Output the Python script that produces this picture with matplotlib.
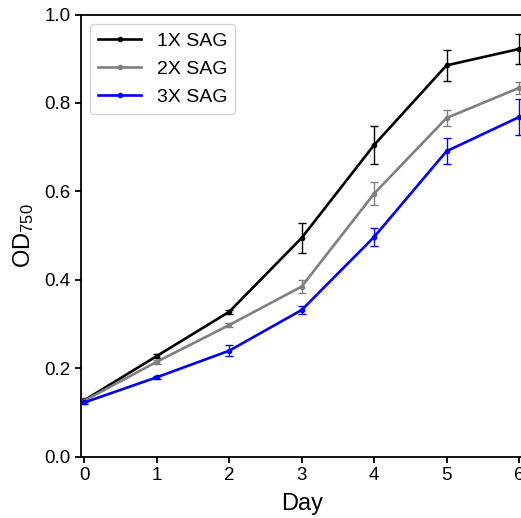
import matplotlib
matplotlib.use("Agg")
import matplotlib.pyplot as plt
from matplotlib.lines import Line2D

plt.rcParams['font.family'] = ['Liberation Sans', 'DejaVu Sans']
plt.rcParams['mathtext.fontset'] = 'custom'
plt.rcParams['mathtext.rm'] = 'Liberation Sans'
plt.rcParams['mathtext.it'] = 'Liberation Sans:italic'

days = [0, 1, 2, 3, 4, 5, 6]
labels = ["1X SAG", "2X SAG", "3X SAG"]
colors = ["black", "gray", "blue"]
od_1x = [0.128, 0.228, 0.328, 0.495, 0.705, 0.885, 0.922]
err_1x = [0.003, 0.005, 0.004, 0.033, 0.043, 0.035, 0.034]
od_2x = [0.127, 0.215, 0.298, 0.385, 0.595, 0.766, 0.834]
err_2x = [0.003, 0.004, 0.004, 0.015, 0.026, 0.019, 0.014]
od_3x = [0.123, 0.180, 0.240, 0.332, 0.497, 0.691, 0.768]
err_3x = [0.003, 0.003, 0.012, 0.008, 0.021, 0.030, 0.041]

fig = plt.figure(figsize=(5.21, 5.18), dpi=100)
ax = fig.add_axes([0.155, 0.118, 0.848, 0.854])

handles = []
for y, e, c, lab in zip([od_1x, od_2x, od_3x], [err_1x, err_2x, err_3x], colors, labels):
    ax.errorbar(days, y, yerr=e, color=c, lw=1.9, marker='o', ms=3,
                capsize=3, elinewidth=1.0, capthick=1.0)
    handles.append(Line2D([], [], color=c, lw=1.9, marker='o', ms=3, label=lab))

ax.set_xlim(-0.05, 6.05)
ax.set_ylim(0, 1.0)
ax.set_xticks(days)
ax.set_yticks([0.0, 0.2, 0.4, 0.6, 0.8, 1.0])
ax.tick_params(labelsize=13.5, width=1.3, length=4)
for s in ax.spines.values():
    s.set_linewidth(1.3)
ax.set_xlabel("Day", fontsize=17, labelpad=6)
ax.set_ylabel("OD$_{750}$", fontsize=17, labelpad=6)
ax.legend(handles=handles, loc='upper left', fontsize=14, handlelength=2.2,
          handletextpad=0.8, labelspacing=0.55, borderaxespad=0.5)

fig.savefig("out.png", dpi=100)
